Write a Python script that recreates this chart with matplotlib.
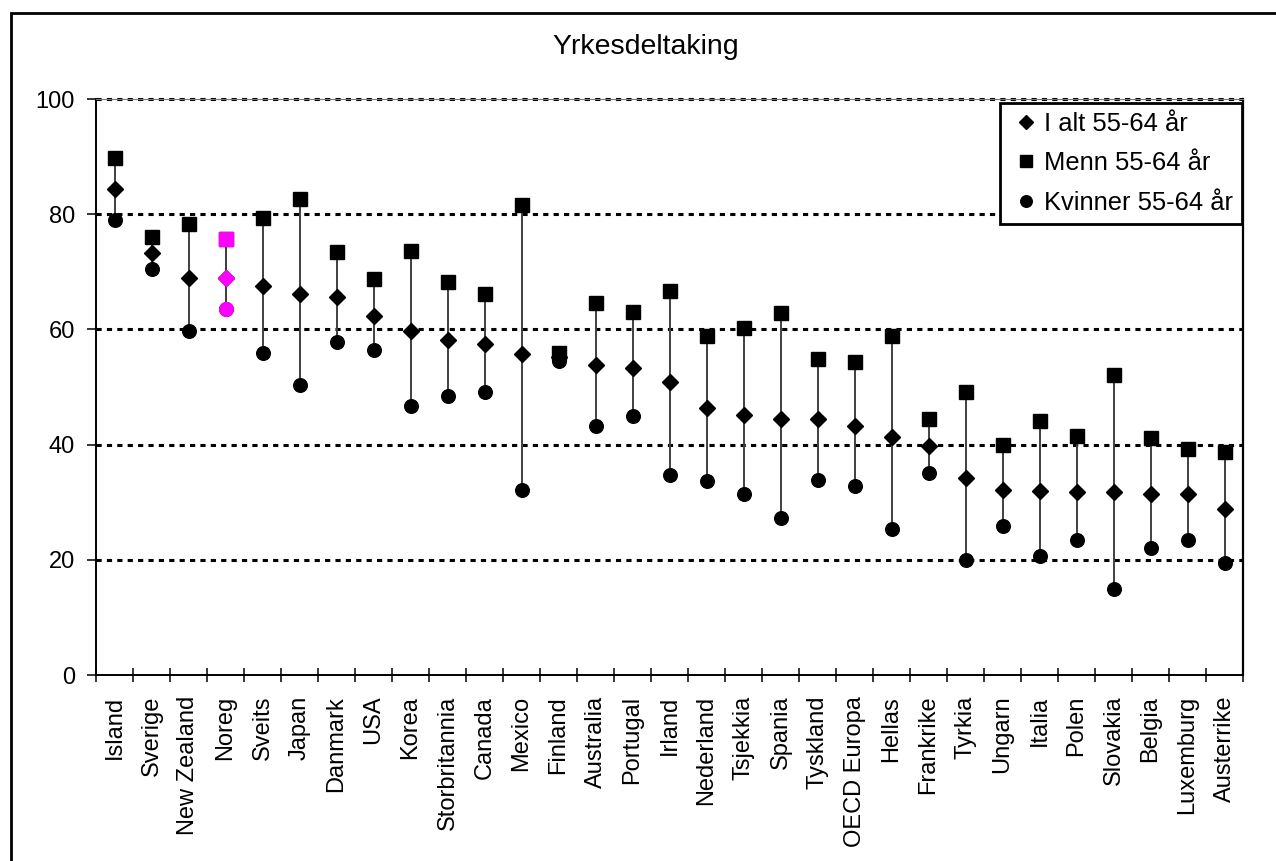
import numpy as np
import matplotlib
matplotlib.use('Agg')
import matplotlib.pyplot as plt
from matplotlib.patches import Rectangle

plt.rcParams['font.family'] = ['Liberation Sans', 'DejaVu Sans']

countries = ['Island', 'Sverige', 'New Zealand', 'Noreg', 'Sveits', 'Japan',
             'Danmark', 'USA', 'Korea', 'Storbritannia', 'Canada', 'Mexico',
             'Finland', 'Australia', 'Portugal', 'Irland', 'Nederland',
             'Tsjekkia', 'Spania', 'Tyskland', 'OECD Europa', 'Hellas',
             'Frankrike', 'Tyrkia', 'Ungarn', 'Italia', 'Polen', 'Slovakia',
             'Belgia', 'Luxemburg', 'Austerrike']
total = [84.4, 73.3, 69.0, 68.9, 67.5, 66.2, 65.6, 62.4, 59.8, 58.1, 57.5,
         55.8, 55.2, 53.9, 53.3, 50.8, 46.4, 45.2, 44.5, 44.4, 43.3, 41.4,
         39.7, 34.2, 32.1, 31.9, 31.8, 31.8, 31.5, 31.5, 28.8]
men = [89.8, 76.1, 78.3, 75.7, 79.3, 82.7, 73.4, 68.8, 73.6, 68.2, 66.1,
       81.6, 55.9, 64.5, 63.0, 66.7, 58.9, 60.3, 62.8, 54.9, 54.3, 58.9,
       44.5, 49.1, 39.9, 44.1, 41.5, 52.0, 41.1, 39.3, 38.7]
women = [79.0, 70.4, 59.8, 63.5, 55.9, 50.4, 57.8, 56.5, 46.7, 48.4, 49.1,
         32.1, 54.5, 43.2, 44.9, 34.7, 33.7, 31.4, 27.3, 33.9, 32.8, 25.4,
         35.1, 20.0, 25.9, 20.6, 23.5, 15.0, 22.0, 23.5, 19.5]
highlight = 'Noreg'

W, H = 1276, 861
fig = plt.figure(figsize=(W / 100, H / 100), dpi=100)
ax = fig.add_axes([96 / W, 1 - 675 / H, (1243 - 96) / W, (675 - 99) / H])

x = np.arange(len(countries))

ax.vlines(x, women, men, color='#404040', lw=1.4, zorder=2)
ax.plot(x, total, ls='none', marker='D', ms=7.8, color='black',
        label='I alt 55-64 år', zorder=3)
ax.plot(x, men, ls='none', marker='s', ms=9.5, color='black',
        label='Menn 55-64 år', zorder=3)
ax.plot(x, women, ls='none', marker='o', ms=9.8, color='black',
        label='Kvinner 55-64 år', zorder=3)
# highlighted country on top
i = countries.index(highlight)
ax.vlines(i, women[i], men[i], color='#404040', lw=1.4, zorder=3)
ax.plot(i, total[i], marker='D', ms=7.8, color='#FF00FF', zorder=4)
ax.plot(i, men[i], marker='s', ms=9.5, color='#FF00FF', zorder=4)
ax.plot(i, women[i], marker='o', ms=9.8, color='#FF00FF', zorder=4)

ax.set_xlim(-0.5, len(countries) - 0.5)
ax.set_ylim(0, 100)
ax.set_yticks([0, 20, 40, 60, 80, 100])
for yv in [20, 40, 60, 80, 100]:
    ax.axhline(yv, color='black', lw=2.2, ls=(0, (1.7, 1.7)), zorder=1,
               clip_on=False)

ax.set_xticks(x)
ax.set_xticklabels(countries, rotation=90, fontsize=17)
ax.set_xticks(np.arange(len(countries) + 1) - 0.5, minor=True)
ax.tick_params(axis='x', which='major', length=0, pad=15)
ax.tick_params(axis='x', which='minor', direction='inout', length=10,
               width=1.1)
ax.tick_params(axis='y', direction='out', length=6.5, width=1.1,
               labelsize=17, pad=8.6)

for side in ['left', 'bottom']:
    ax.spines[side].set_linewidth(1.4)
ax.spines['right'].set_linewidth(1.6)
ax.spines['top'].set_linewidth(0.8)
ax.spines['top'].set_color('#777777')

leg = ax.legend(loc='upper right', bbox_to_anchor=(0.999, 0.993),
                fontsize=18.4, frameon=True, fancybox=False, framealpha=1,
                handlelength=1.3, handletextpad=0.05, borderpad=0.35,
                labelspacing=0.6, borderaxespad=0, markerscale=0.85)
leg.get_frame().set_edgecolor('black')
leg.get_frame().set_linewidth(2.0)
leg.set_zorder(5)

fig.text(646 / W, 1 - 47 / H, 'Yrkesdeltaking', fontsize=20.5,
         ha='center', va='center')

fig.patches.append(Rectangle((11 / W, -0.2), 1.5, 1.2 - 13 / H,
                             transform=fig.transFigure, fill=False,
                             edgecolor='black', lw=2.0))

fig.savefig('out.png', dpi=100)
